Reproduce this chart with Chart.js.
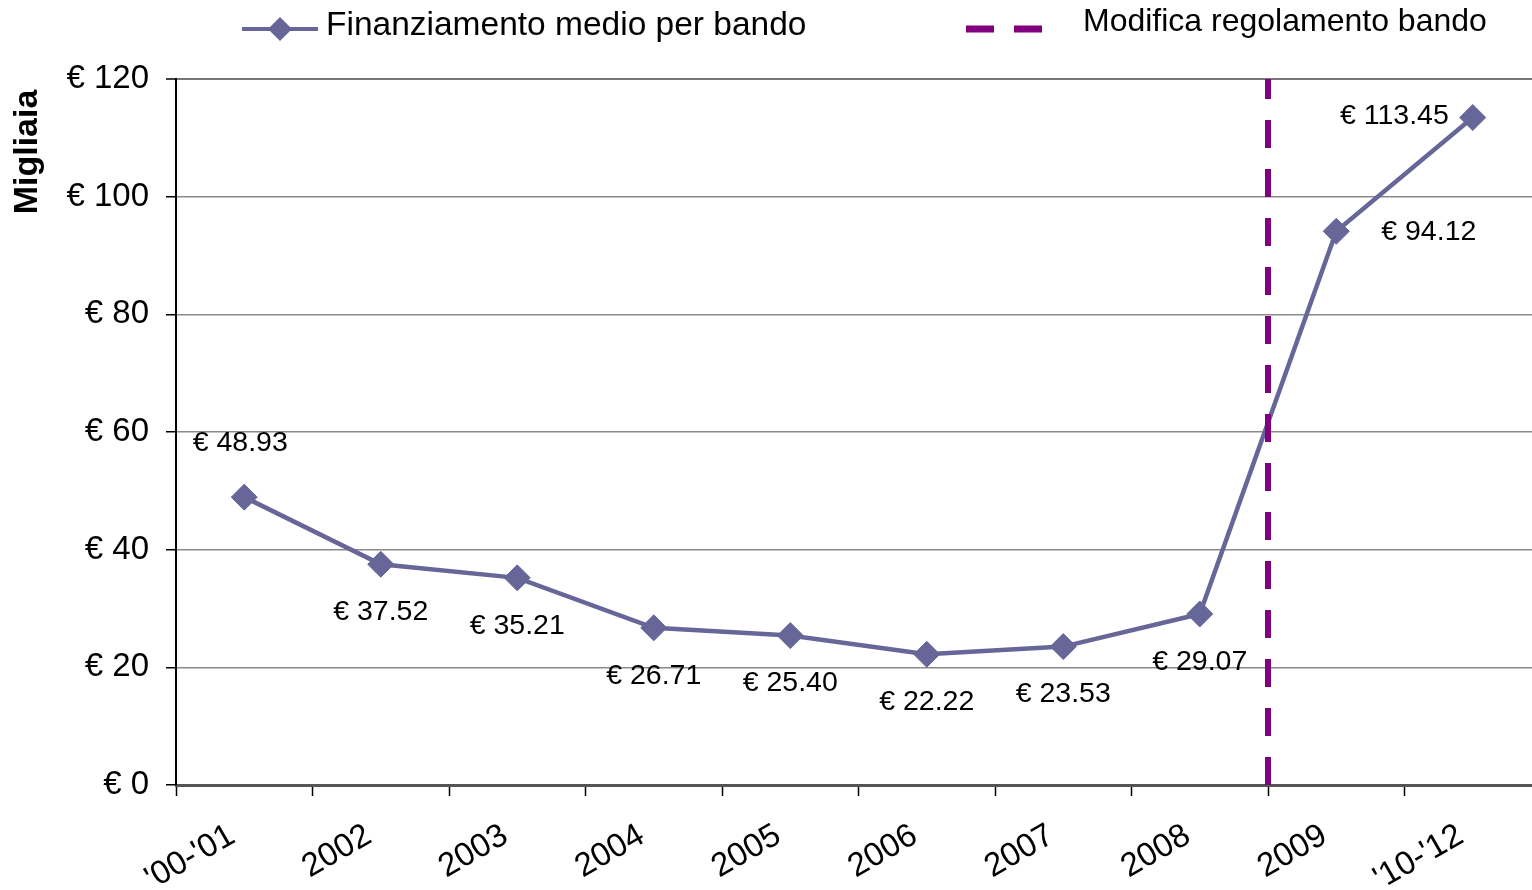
<!DOCTYPE html>
<html lang="it">
<head>
  <meta charset="UTF-8">
  <title>Finanziamento medio per bando</title>
  <script src="https://cdn.jsdelivr.net/npm/chart.js"></script>
  <style>
    html, body { margin: 0; padding: 0; background: #fff; overflow: hidden; }
    canvas { display: block; }
  </style>
</head>
<body>
  <canvas id="chart" width="1555" height="890"></canvas>

  <script>
    const categories = ["'00-'01", "2002", "2003", "2004", "2005", "2006", "2007", "2008", "2009", "'10-'12"];
    const averageFunding = [48.93, 37.52, 35.21, 26.71, 25.40, 22.22, 23.53, 29.07, 94.12, 113.45];
    const yTicks = [0, 20, 40, 60, 80, 100, 120];
    // the rule change sits between these two categories
    const changeBetween = ["2008", "2009"];

    const seriesName = 'Finanziamento medio per bando';
    const changeName = 'Modifica regolamento bando';
    const yTitle = 'Migliaia';

    const FONT = '"Liberation Sans", Arial, sans-serif';
    const LINE_COLOR = '#666699';
    const DASH_COLOR = '#800080';

    // where each value label goes relative to its point
    const labelPlace = ['above', 'below', 'below', 'below', 'below', 'below', 'below', 'below', 'right', 'left'];

    const valueLabels = {
      id: 'valueLabels',
      afterDatasetsDraw(chart) {
        const ctx = chart.ctx;
        const meta = chart.getDatasetMeta(0);
        ctx.save();
        ctx.font = '28.5px ' + FONT;
        ctx.fillStyle = '#000';
        ctx.textBaseline = 'middle';
        meta.data.forEach((pt, i) => {
          const txt = '€ ' + averageFunding[i].toFixed(2);
          const place = labelPlace[i];
          if (place === 'above') {
            ctx.textAlign = 'center';
            ctx.fillText(txt, pt.x - 4, pt.y - 54);
          } else if (place === 'below') {
            ctx.textAlign = 'center';
            ctx.fillText(txt, pt.x, pt.y + 48);
          } else if (place === 'right') {
            ctx.textAlign = 'left';
            ctx.fillText(txt, pt.x + 45, pt.y + 1);
          } else {
            ctx.textAlign = 'right';
            ctx.fillText(txt, pt.x - 24, pt.y - 1);
          }
        });
        ctx.restore();
      }
    };

    const changeLine = {
      id: 'changeLine',
      afterDatasetsDraw(chart) {
        const x = chart.scales.x;
        const area = chart.chartArea;
        const a = x.getPixelForValue(categories.indexOf(changeBetween[0]));
        const b = x.getPixelForValue(categories.indexOf(changeBetween[1]));
        const px = (a + b) / 2;
        const ctx = chart.ctx;
        ctx.save();
        ctx.strokeStyle = DASH_COLOR;
        ctx.lineWidth = 6;
        ctx.setLineDash([28, 21]);
        ctx.beginPath();
        ctx.moveTo(px, area.bottom);
        ctx.lineTo(px, area.top);
        ctx.stroke();
        ctx.restore();
      }
    };

    const legendAndTitle = {
      id: 'legendAndTitle',
      afterDraw(chart) {
        const ctx = chart.ctx;
        ctx.save();
        // series legend
        ctx.strokeStyle = LINE_COLOR;
        ctx.lineWidth = 4;
        ctx.beginPath();
        ctx.moveTo(242, 29);
        ctx.lineTo(318, 29);
        ctx.stroke();
        ctx.fillStyle = LINE_COLOR;
        ctx.beginPath();
        ctx.moveTo(268, 29);
        ctx.lineTo(280, 17);
        ctx.lineTo(292, 29);
        ctx.lineTo(280, 41);
        ctx.closePath();
        ctx.fill();
        ctx.fillStyle = '#000';
        ctx.font = '33.5px ' + FONT;
        ctx.textAlign = 'left';
        ctx.textBaseline = 'middle';
        ctx.fillText(seriesName, 326, 26);

        // dashed line legend
        ctx.strokeStyle = DASH_COLOR;
        ctx.lineWidth = 7;
        ctx.beginPath();
        ctx.moveTo(966, 29); ctx.lineTo(994, 29);
        ctx.moveTo(1014, 29); ctx.lineTo(1042, 29);
        ctx.stroke();
        ctx.fillStyle = '#000';
        ctx.font = '32px ' + FONT;
        ctx.fillText(changeName, 1083, 22);

        // y axis title
        ctx.translate(28, 152);
        ctx.rotate(-Math.PI / 2);
        ctx.font = 'bold 34px ' + FONT;
        ctx.textAlign = 'center';
        ctx.fillText(yTitle, 0, 0);
        ctx.restore();
      }
    };

    new Chart(document.getElementById('chart'), {
      type: 'line',
      data: {
        labels: categories,
        datasets: [{
          label: seriesName,
          data: averageFunding,
          borderColor: LINE_COLOR,
          backgroundColor: LINE_COLOR,
          borderWidth: 4.5,
          pointStyle: 'rectRot',
          pointRadius: 13,
          pointBorderWidth: 1,
          pointBackgroundColor: LINE_COLOR,
          pointBorderColor: LINE_COLOR,
          tension: 0
        }]
      },
      options: {
        responsive: false,
        animation: false,
        layout: { padding: { top: 79, right: 5, left: 0, bottom: 0 } },
        plugins: {
          legend: { display: false },
          tooltip: { enabled: false }
        },
        scales: {
          x: {
            offset: true,
            afterFit(s) {
              s.height = 105;
              s.paddingLeft = 0;
              s.paddingRight = 0;
            },
            grid: {
              offset: true,
              drawOnChartArea: false,
              drawTicks: true,
              tickLength: 11,
              tickColor: '#000',
              tickWidth: 1.5
            },
            border: { color: '#555', width: 3 },
            ticks: {
              autoSkip: false,
              minRotation: 30,
              maxRotation: 30,
              padding: 20,
              labelOffset: -12,
              color: '#000',
              font: { family: FONT, size: 33 }
            }
          },
          y: {
            min: 0,
            max: 120,
            afterFit(s) { s.width = 176; },
            afterBuildTicks(s) { s.ticks = yTicks.map(v => ({ value: v })); },
            grid: {
              color: ctx => ctx.tick && ctx.tick.value === 120 ? '#777' : '#8a8a8a',
              lineWidth: ctx => ctx.tick && ctx.tick.value === 120 ? 2 : 1.5,
              tickLength: 10,
              tickColor: '#000',
              tickWidth: 1.5
            },
            border: { color: '#000', width: 2 },
            ticks: {
              padding: 17,
              color: '#000',
              font: { family: FONT, size: 33 },
              callback: v => '€ ' + v
            }
          }
        }
      },
      plugins: [changeLine, valueLabels, legendAndTitle]
    });
  </script>
</body>
</html>
